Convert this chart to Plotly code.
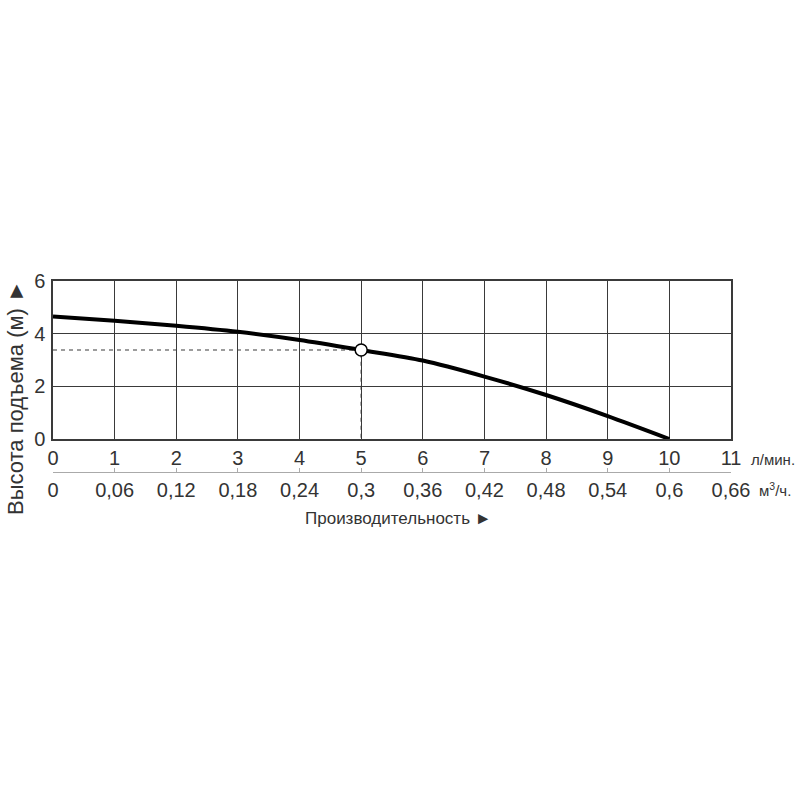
import plotly.graph_objects as go

# pump curve
flow_lpm = [0, 1, 2, 3, 4, 5, 6, 7, 8, 9, 10]
head_m = [4.65, 4.49, 4.30, 4.07, 3.76, 3.38, 2.98, 2.37, 1.67, 0.87, 0.0]

duty_flow = 5
duty_head = 3.38

lpm_ticks = list(range(0, 12))
lpm_labels = [str(v) for v in lpm_ticks]
m3h_labels = ["0", "0,06", "0,12", "0,18", "0,24", "0,3", "0,36",
              "0,42", "0,48", "0,54", "0,6", "0,66"]
head_ticks = [0, 2, 4, 6]

FONT = "Liberation Sans, Arial, sans-serif"
GRID = "#3a3a3a"

PLOT_L, PLOT_R, PLOT_T, PLOT_B = 53, 731, 281, 439
AREA_B = 520  # bottom of the (larger) plot area that holds the second axis
W = H = 800


def px(xpage):
    return (xpage - PLOT_L) / (PLOT_R - PLOT_L)


def py(ypage):
    return (AREA_B - ypage) / (AREA_B - PLOT_T)


fig = go.Figure()

fig.add_trace(go.Scatter(
    x=[0, duty_flow, duty_flow],
    y=[duty_head, duty_head, 0],
    mode="lines",
    line=dict(color=GRID, width=1.2, dash="4px,4px"),
    showlegend=False,
    hoverinfo="skip",
))

fig.add_trace(go.Scatter(
    x=flow_lpm,
    y=head_m,
    mode="lines",
    line=dict(color="black", width=4, shape="spline", smoothing=0.8),
    showlegend=False,
))

fig.add_trace(go.Scatter(
    x=[duty_flow],
    y=[duty_head],
    mode="markers",
    marker=dict(size=12, color="white", line=dict(color="black", width=1.5)),
    showlegend=False,
))

# invisible trace so the second x axis is drawn
fig.add_trace(go.Scatter(
    x=[0, 11], y=[0, 0], xaxis="x2", mode="markers",
    marker=dict(opacity=0), showlegend=False, hoverinfo="skip",
))

fig.update_layout(
    width=W,
    height=H,
    margin=dict(l=PLOT_L, r=W - PLOT_R, t=PLOT_T, b=H - AREA_B),
    paper_bgcolor="white",
    plot_bgcolor="white",
    font=dict(family=FONT, color="#333", size=20),
    xaxis=dict(
        range=[0, 11],
        tickvals=lpm_ticks,
        ticktext=lpm_labels,
        showgrid=True,
        gridcolor=GRID,
        gridwidth=1.3,
        showline=True,
        linecolor=GRID,
        linewidth=1.5,
        mirror=True,
        zeroline=False,
        ticks="",
        ticklabelstandoff=0,
        anchor="y",
    ),
    xaxis2=dict(
        range=[0, 11],
        tickvals=lpm_ticks,
        ticktext=m3h_labels,
        overlaying="x",
        anchor="free",
        position=py(472),
        side="bottom",
        showgrid=False,
        showline=True,
        linecolor="#aaa",
        linewidth=1,
        ticks="inside",
        ticklen=4,
        tickcolor="#aaa",
        zeroline=False,
        ticklabelstandoff=0,
    ),
    yaxis=dict(
        range=[0, 6],
        domain=[py(PLOT_B), 1],
        tickvals=head_ticks,
        showgrid=True,
        gridcolor=GRID,
        gridwidth=1.3,
        showline=True,
        linecolor=GRID,
        linewidth=1.5,
        mirror=True,
        zeroline=False,
        ticks="",
        ticklabelstandoff=2,
    ),
    annotations=[
        dict(text="л/мин.", xref="paper", yref="paper", x=px(773), y=py(459),
             xanchor="center", yanchor="middle", showarrow=False, font=dict(size=15)),
        dict(text="м<sup>3</sup>/ч.", xref="paper", yref="paper", x=px(775), y=py(489),
             xanchor="center", yanchor="middle", showarrow=False, font=dict(size=15)),
        dict(text="Производительность ►", xref="paper", yref="paper",
             x=px(398), y=py(518), xanchor="center", yanchor="middle",
             showarrow=False, font=dict(size=17)),
        dict(text="Высота подъема (м) ►", xref="paper", yref="paper",
             x=px(15), y=py(398), xanchor="center", yanchor="middle",
             showarrow=False, textangle=-90, font=dict(size=22)),
    ],
)

# drop the browser's default 8px body margin so the figure sits at 0,0
fig.write_html(
    "out.html",
    config={"displayModeBar": False},
    post_script="document.body.style.margin = '0';",
)
